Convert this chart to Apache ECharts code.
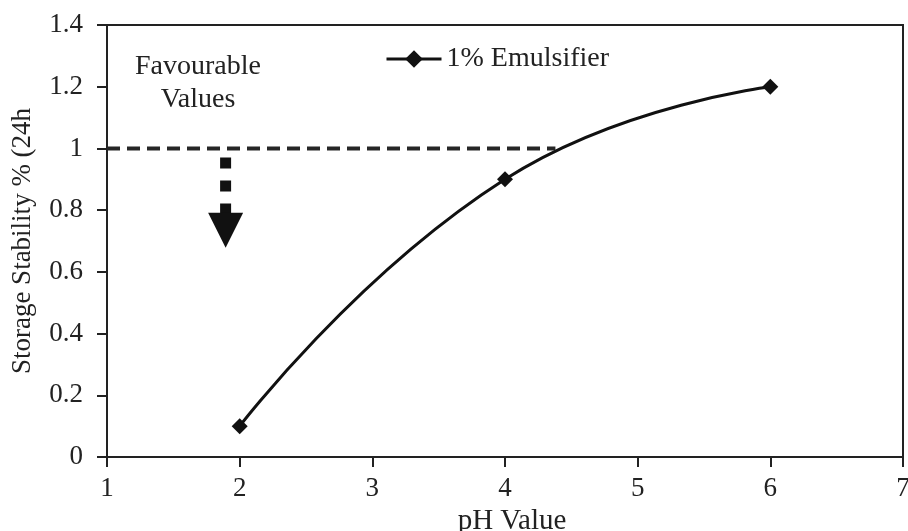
<!DOCTYPE html>
<html>
<head>
<meta charset="utf-8">
<script src="https://cdn.jsdelivr.net/npm/echarts@6/dist/echarts.min.js"></script>
<style>
html,body{margin:0;padding:0;background:#fff;overflow:hidden;}
#chart{width:908px;height:531px;}
</style>
</head>
<body>
<div id="chart"></div>
<script>
// Data
var phValues = [2, 4, 6];
var stability = [0.1, 0.9, 1.2];
var seriesName = '1% Emulsifier';
var thresholdX = [1, 4.38];
var thresholdY = 1;
var arrowX = 1.894;
var arrowShaftY = [0.971, 0.785];
var arrowHeadY = 0.735;
var xTicks = [1, 2, 3, 4, 5, 6, 7];
var yTicks = [0, 0.2, 0.4, 0.6, 0.8, 1, 1.2, 1.4];
var annotationText = 'Favourable\nValues';

var FONT = '"Liberation Serif", "Times New Roman", serif';
var TXT = '#222';

var chart = echarts.init(document.getElementById('chart'), null, {renderer: 'canvas'});
var option = {
  animation: false,
  backgroundColor: '#fff',
  grid: {left: 107, right: 5, top: 25, bottom: 74, show: true, borderColor: '#222', borderWidth: 2,
         backgroundColor: 'transparent', containLabel: false, outerBoundsMode: 'none'},
  legend: {
    data: [seriesName],
    left: 380, top: 40,
    itemWidth: 55, itemHeight: 22,
    itemStyle: {color: '#111'},
    lineStyle: {color: '#111', width: 3},
    textStyle: {fontFamily: FONT, fontSize: 28, color: TXT}
  },
  xAxis: {
    type: 'value', min: xTicks[0], max: xTicks[xTicks.length - 1], interval: 1,
    name: 'pH Value', nameLocation: 'middle', nameGap: 46,
    nameTextStyle: {fontFamily: FONT, fontSize: 29, color: TXT, padding: [0, 0, 0, 14]},
    axisLine: {lineStyle: {color: '#222', width: 2}},
    axisTick: {show: true, length: 10, lineStyle: {color: '#222', width: 2}},
    axisLabel: {fontFamily: FONT, fontSize: 27, color: TXT, margin: 18},
    splitLine: {show: false}
  },
  yAxis: {
    type: 'value', min: yTicks[0], max: yTicks[yTicks.length - 1], interval: 0.2,
    name: 'Storage Stability % (24h', nameLocation: 'middle', nameGap: 71,
    nameTextStyle: {fontFamily: FONT, fontSize: 27, color: TXT},
    axisLine: {show: true, lineStyle: {color: '#222', width: 2}},
    axisTick: {show: true, length: 10, lineStyle: {color: '#222', width: 2}},
    axisLabel: {fontFamily: FONT, fontSize: 27, color: TXT, margin: 24},
    splitLine: {show: false}
  },
  series: [
    {
      name: seriesName, type: 'line', smooth: 0.5,
      data: phValues.map(function (x, i) { return [x, stability[i]]; }),
      symbol: 'diamond', symbolSize: 16,
      lineStyle: {color: '#111', width: 3},
      itemStyle: {color: '#111'},
      z: 5
    },
    {
      name: 'threshold', type: 'line',
      data: [[thresholdX[0], thresholdY], [thresholdX[1], thresholdY]],
      symbol: 'none',
      lineStyle: {color: '#262626', width: 4, type: [13, 7], cap: 'butt'},
      z: 3
    },
    {
      name: 'arrowShaft', type: 'line',
      data: [[arrowX, arrowShaftY[0]], [arrowX, arrowShaftY[1]]],
      symbol: 'none',
      lineStyle: {color: '#111', width: 11, type: [11, 12], cap: 'butt'},
      z: 3
    },
    {
      name: 'arrowHead', type: 'scatter',
      data: [[arrowX, arrowHeadY]],
      symbol: 'triangle', symbolSize: [35, 35], symbolRotate: 180,
      itemStyle: {color: '#111', opacity: 1},
      z: 3
    }
  ],
  graphic: [{
    type: 'text', left: 132, top: 50,
    style: {text: annotationText, font: '28px ' + FONT, fill: TXT, textAlign: 'center', lineHeight: 33, width: 132, align: 'center'}
  }]
};
chart.setOption(option);
</script>
</body>
</html>
